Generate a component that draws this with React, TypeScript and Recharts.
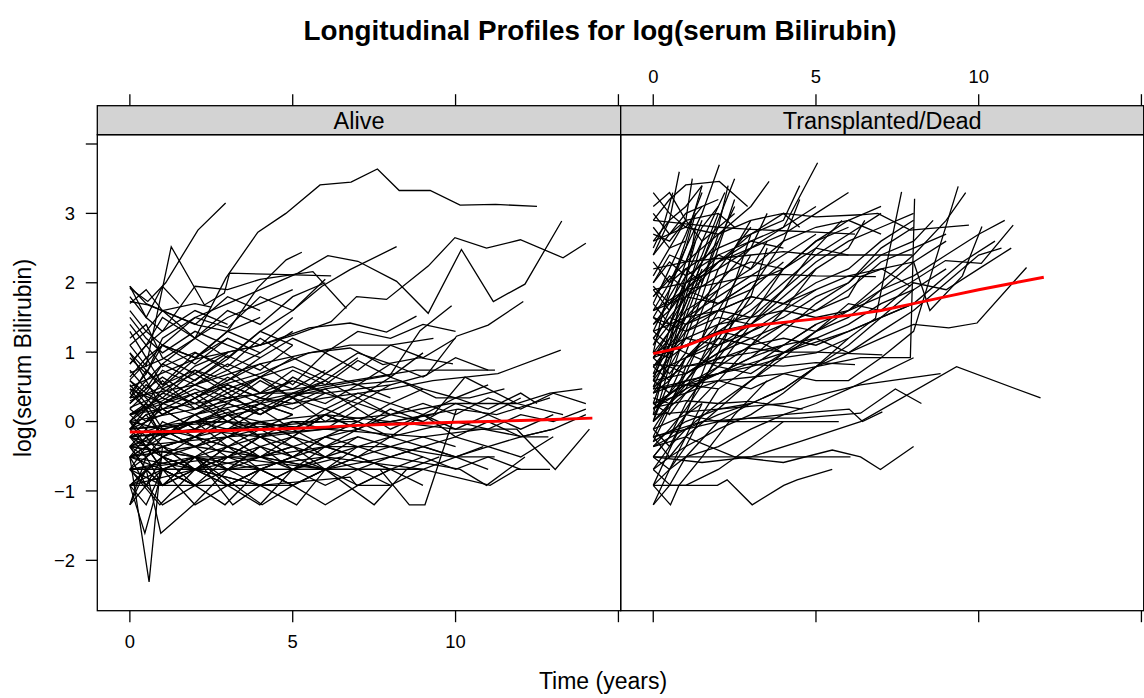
import React from 'react';
import { Line, LineChart, XAxis, YAxis } from 'recharts';

type Pt = [number, number];

// log(serum bilirubin) profiles, one array per subject: [years, value]
const aliveProfiles: Pt[][] = [
	[[0, 0.7], [1, 0.9], [2, 1.2], [2.95, 2.07], [3.93, 2.73], [4.79, 3.0], [5.84, 3.41], [6.79, 3.45], [7.6, 3.64], [8.27, 3.33], [9.22, 3.33], [10.14, 3.12], [11.23, 3.13], [12.5, 3.1]],
	[[0, 1.92], [0.55, 1.73], [1.1, 2.0], [2.09, 2.76], [2.94, 3.15]],
	[[0, 1.1], [0.5, 0.8], [1.27, 2.52], [2.29, 1.68], [2.9, 1.85], [3.06, 2.14], [4.5, 2.12], [6.18, 2.1]],
	[[0, 1.95], [0.5, 1.5], [1, 1.3], [2, 1.95], [3, 1.9], [4, 2.05], [5.62, 2.16], [6.65, 1.63]],
	[[0, 0.3], [1, 0.5], [2, 0.9], [3, 1.3], [3.93, 1.93], [4.8, 2.33], [5.28, 2.44]],
	[[0, 0.6], [1, 1.1], [2, 1.5], [3, 1.7], [4, 1.9], [5.16, 2.14], [6.08, 2.39], [7.0, 2.31], [8.19, 2.02], [9.16, 1.56], [10.18, 2.48], [11.16, 1.73], [12.13, 1.98], [13.26, 2.89]],
	[[0, 0.2], [1, 0.4], [2, 0.8], [3, 1.0], [4, 1.1], [5.06, 1.25], [6.18, 1.44], [6.96, 1.8], [7.88, 1.76], [9.16, 2.24], [9.98, 2.65], [10.95, 2.5], [11.99, 2.62], [13.3, 2.36], [14.0, 2.57]],
	[[0, 0.1], [1, 0.3], [2, 0.6], [3, 0.9], [4, 1.3], [5, 1.6], [5.9, 1.95], [6.76, 2.19], [8.19, 2.52]],
	[[0, 0.5], [2, 0.9], [4, 1.1], [5.5, 1.35], [6.76, 1.42], [7.88, 1.29], [8.8, 1.52]],
	[[0, -0.22], [2, 0.1], [4, 0.3], [6, 0.5], [7.99, 0.67], [8.91, 1.31], [9.88, 1.67]],
	[[0, 0.0], [2, 0.18], [4, 0.41], [6, 0.41], [8, 0.53], [9.11, 0.67], [10.03, 1.23], [11.0, 1.39], [12.08, 1.73]],
	[[0, -0.36], [2, 0.0], [4, 0.18], [6, 0.34], [8, 0.47], [9.3, 0.59], [11.3, 0.69], [13.23, 1.03]],
	[[0, 0.34], [2, 0.53], [4, 0.83], [5.5, 0.99], [6.76, 1.1], [7.99, 1.1], [9.32, 1.2]],
	[[0, 0.1], [2, 0.41], [4, 0.69], [5.5, 0.99], [6.76, 1.06], [7.77, 0.82], [8.91, 0.92], [9.92, 0.83]],
	[[0, -0.11], [2, 0.0], [4, 0.26], [6, 0.47], [6.76, 0.53], [8.29, 0.59], [9.4, 0.34], [10.43, 0.34], [11.5, 0.47]],
	[[0, 0.1], [3, 0.34], [6, 0.53], [8.8, 0.74], [10.18, 0.74], [11.21, 0.74]],
	[[0, -0.51], [2, -0.22], [4, 0.0], [6, 0.1], [8, 0.0], [9.32, 0.1], [10.29, 0.64], [11.88, 0.26], [13.3, 0.1]],
	[[0, -0.22], [3, -0.11], [6, 0.0], [8, 0.1], [9.83, 0.26], [11.88, 0.26], [12.9, 0.41], [13.89, 0.47]],
	[[0, -0.36], [3, -0.22], [6, -0.11], [8, 0.0], [10.08, 0.18], [11.26, 0.1], [12.9, 0.34]],
	[[0, -0.69], [2, -0.51], [4, -0.51], [6, -0.36], [8, -0.36], [9.9, -0.51], [11.2, -0.51]],
	[[0, -0.92], [2, -0.69], [4, -0.51], [6, -0.69], [8, -0.51], [10.14, -0.69], [10.95, -0.92], [12.13, -0.51]],
	[[0, -0.69], [3, -0.69], [6, -0.51], [9, -0.69], [11.06, -0.92], [11.88, -0.69], [12.9, -0.69]],
	[[0, -0.22], [2, -0.11], [4, -0.22], [6, -0.11], [8, 0.0], [10, -0.11], [11.88, -0.11], [13.06, -0.69], [14.11, -0.11]],
	[[0, -0.11], [3, 0.0], [6, -0.11], [9, -0.22], [10.85, -0.11], [12.08, -0.22], [12.85, -0.22]],
	[[0, -0.36], [2, -0.51], [4, -0.69], [6.76, -0.69], [7.68, -0.69], [8.58, -1.2], [9.06, -1.2], [9.42, -0.69], [10.03, 0.18]],
	[[0, -0.51], [2, -0.69], [4, -0.92], [6.76, -0.8], [6.96, -0.92], [7.99, -0.92]],
	[[0, -0.69], [3, -0.51], [6, -0.69], [8.19, -0.69], [9.0, -0.69], [10.85, -0.36]],
	[[0, -0.51], [0.59, -2.31], [1, -0.36], [2, -0.22], [3, -0.36]],
	[[0, -0.92], [0.46, -1.61], [1, -0.69], [2, -0.92]],
	[[0, -0.36], [0.5, -0.69], [0.95, -1.61], [1.95, -1.2], [3, -0.69]],
	[[0, -1.2], [0.5, -0.51], [1, -0.92], [2, -0.69]],
	[[0, -0.69], [0.92, -1.2], [2, -0.69], [3, -0.51], [4, -0.36]],
	[[0, -0.51], [1, -0.69], [2, -0.92], [2.92, -1.2], [4, -0.69], [5, -0.51]],
	[[0, -0.92], [1, -0.69], [2, -0.51], [3.16, -1.2], [4, -0.92], [5, -0.69], [6, -0.51]],
	[[0, -0.22], [1, -0.51], [2, -0.69], [3, -0.92], [3.99, -1.2], [5, -0.69], [6.5, -0.51]],
	[[0, -0.36], [2, -0.51], [4.06, -1.2], [5, -0.92], [6, -0.69]],
	[[0, -0.69], [2, -0.69], [4, -0.92], [5.12, -1.2], [6, -0.69], [7, -0.51], [8, -0.69]],
	[[0, -0.51], [2, -0.36], [4, -0.51], [6, -0.69], [7.5, -1.2], [8.5, -0.69], [9.5, -0.51]],
	[[0, -0.69], [0.96, -0.69], [2, -0.69], [3, -0.69], [4, -0.69], [5, -0.69], [6, -0.69], [7, -0.69], [8, -0.69], [9, -0.69]],
	[[0, -0.92], [0.92, -0.92], [2, -0.92], [3, -0.92], [4, -0.92], [5, -0.92]],
	[[0, 0.0], [1, -0.11], [2, 0.0], [3, 0.0], [4, -0.11], [5, 0.0], [6, 0.0], [7, 0.0]],
	[[0, 1.5], [0.5, 1.2], [1, 0.99], [2, 1.3], [3, 1.1], [4, 0.92]],
	[[0, 1.2], [0.5, 1.4], [1, 0.92], [2, 0.69], [3, 0.99]],
	[[0, 0.83], [0.5, 1.1], [1, 1.5], [2, 1.2], [3, 1.6], [4, 1.4], [5, 1.8], [6, 2.0]],
	[[0, 0.99], [0.5, 0.59], [1, 0.83], [2, 1.2], [3, 0.92], [4, 1.3], [5, 1.1]],
	[[0, 0.64], [0.5, 0.92], [1, 0.53], [2, 0.74], [3, 0.47], [4, 0.64], [5, 0.79], [6, 0.59], [7, 0.92]],
	[[0, 0.47], [1, 0.26], [2, 0.53], [3, 0.74], [4, 0.41], [5, 0.59]],
	[[0, 0.34], [0.5, 0.59], [1, 0.18], [2, 0.41], [3, 0.1], [4, 0.34], [5, 0.26], [6, 0.47], [7, 0.18]],
	[[0, 0.18], [0.5, 0.0], [1, 0.26], [2, 0.1], [3, 0.34], [4, 0.18], [5, 0.41], [6, 0.26], [7, 0.53], [8, 0.34]],
	[[0, 0.1], [0.5, 0.26], [1, -0.11], [2, 0.0], [3, 0.18], [4, -0.11], [5, 0.1]],
	[[0, -0.11], [0.5, 0.1], [1, 0.18], [2, -0.11], [3, 0.1], [4, 0.0], [5, -0.22], [6, 0.1], [7, -0.11], [8, 0.1], [9, 0.0]],
	[[0, 0.0], [0.5, -0.22], [1, -0.11], [2, -0.36], [3, -0.22], [4, -0.11], [5, -0.36]],
	[[0, -0.22], [0.5, -0.36], [1, -0.11], [2, -0.22], [3, -0.51], [4, -0.22], [5, -0.36], [6, -0.22], [7, -0.11]],
	[[0, -0.36], [0.5, -0.11], [1, -0.36], [2, -0.51], [3, -0.36], [4, -0.22], [5, -0.51], [6, -0.36], [7, -0.51], [8, -0.36], [9, -0.22], [10, -0.36]],
	[[0, -0.51], [0.5, -0.36], [1, -0.51], [2, -0.22], [3, -0.36], [4, -0.51], [5, -0.22], [6, -0.36], [7, -0.22]],
	[[0, -0.69], [0.5, -0.51], [1, -0.36], [2, -0.69], [3, -0.36], [4, -0.51], [5, -0.69], [6, -0.36], [7, -0.51], [8, -0.22]],
	[[0, 0.26], [0.5, 0.47], [1, 0.64], [2, 0.34], [3, 0.59], [4, 0.83], [5, 0.53], [6, 0.99], [7, 0.74], [8, 1.1], [9, 0.92], [10, 1.2]],
	[[0, 0.59], [0.5, 0.34], [1, 0.1], [2, 0.34], [3, 0.0], [4, 0.26], [5, 0.1]],
	[[0, 1.7], [0.5, 1.9], [1, 1.6], [2, 1.2], [3, 1.5], [4, 1.7], [5, 1.9]],
	[[0, 1.8], [0.5, 1.5], [1, 1.95], [1.5, 1.7]],
	[[0, 0.41], [0.5, 0.69], [1, 1.2], [2, 1.5], [3, 1.35], [4, 1.8], [5, 1.6], [6, 2.05]],
	[[0, -0.11], [1, 0.1], [2, 0.34], [3, 0.64], [4, 0.41], [5, 0.74], [6, 0.53], [7, 0.88], [8, 0.64], [9, 0.99]],
	[[0, -0.51], [1, -0.22], [2, 0.0], [3, -0.11], [4, 0.18], [5, -0.11], [6, 0.1], [7, 0.34], [8, 0.1], [9, 0.26], [10, 0.1], [11, 0.34], [12, 0.18], [13, 0.41], [14, 0.26]],
	[[0, -0.22], [1, -0.36], [2, -0.22], [3, 0.0], [4, -0.22], [5, -0.11], [6, -0.36], [7, -0.11], [8, -0.22], [9, -0.11], [10, 0.0], [11, -0.11], [12, 0.1], [13, 0.0], [14, 0.18]],
	[[0, -0.92], [1, -0.51], [2, -0.69], [3, -0.36], [4, -0.69], [5, -0.51], [6, -0.22], [7, -0.36], [8, -0.51], [9, -0.36], [10, -0.22], [11, -0.36], [12, -0.51], [13, -0.22]],
	[[0, -0.69], [1, -0.92], [2, -0.51], [3, -0.69], [4, -0.36], [5, -0.51], [6, -0.69], [7, -0.92], [8, -0.69], [9, -0.51], [10, -0.69], [11, -0.51], [12, -0.69]],
	[[0, 0.1], [1, 0.34], [2, 0.18], [3, 0.47], [4, 0.26], [5, 0.64], [6, 0.41], [7, 0.26], [8, 0.53]],
	[[0, 0.74], [0.5, 0.47], [1, 0.83], [2, 0.59], [3, 0.95], [4, 0.74], [5, 1.1]],
	[[0, -0.36], [0.5, -0.69], [1, -0.51], [2, -0.92], [3, -0.69], [4, -0.92], [5, -0.69], [6, -0.92], [7, -0.69], [8, -0.92], [9, -0.69]],
	[[0, 0.0], [0.5, 0.18], [1, -0.22], [2, 0.1], [3, -0.22], [4, 0.0], [5, -0.11], [6, 0.18], [7, 0.0], [8, 0.26], [9, 0.1], [10, 0.34], [11, 0.18], [12, 0.41], [12.5, 0.26]],
	[[0, 1.3], [0.5, 0.92], [1, 1.1], [2, 0.83], [3, 1.2]],
	[[0, 1.73], [0.55, 1.68], [2.09, 1.39], [3, 1.3], [4, 1.5]],
	[[0, 1.95], [0.5, 1.7], [1, 1.6], [2, 1.7], [2.5, 1.65]],
	[[0, -0.92], [0.5, -1.2], [1, -0.69], [2, -0.92], [3, -0.51]],
	[[0, -1.2], [0.5, -0.92], [1, -1.2], [2, -0.92]],
	[[0, 0.47], [0.5, 0.18], [1, -0.22], [2, 0.0], [3, -0.36], [4, -0.11]],
	[[0, 0.59], [0.5, 0.41], [1, 0.74], [2, 0.53], [3, 0.83], [4, 0.64], [5, 0.92], [6, 0.69], [7, 0.99], [8, 0.83]],
	[[0, -0.11], [0.5, 0.1], [1, -0.22], [2, 0.1], [3, 0.26], [4, 0.1], [5, 0.34], [6, 0.18], [7, 0.41], [8, 0.26], [9, 0.47], [10, 0.34], [11, 0.53]],
	[[0, -0.36], [0.5, -0.51], [1, -0.22], [2, -0.36], [3, -0.11], [4, -0.36], [5, -0.22], [6, -0.51], [7, -0.36], [8, -0.22], [9, -0.36], [10, -0.51], [11, -0.36], [12, -0.22], [13, -0.11]],
	[[0, -0.69], [0.5, -0.36], [1, -0.69], [2, -0.51], [3, -0.69], [4, -0.36], [5, -0.69], [6, -0.51], [7, -0.69], [8, -0.51], [9, -0.36], [10, -0.51], [11, -0.69]],
	[[0, 0.18], [0.5, 0.41], [1, 0.26], [2, 0.53], [3, 0.34], [4, 0.64], [5, 0.47], [6, 0.74]],
	[[0, 0.92], [0.5, 0.69], [1, 1.1], [2, 0.92], [3, 1.3], [4, 1.1], [5, 1.5]],
	[[0, 1.4], [0.5, 1.1], [1, 1.3], [2, 1.6], [3, 1.4]],
	[[0, 1.1], [0.5, 1.3], [1, 1.6], [2, 1.4], [3, 1.8], [4, 1.6]],
	[[0, 0.26], [0.5, 0.53], [1, 0.34], [2, 0.74], [3, 0.59], [4, 0.92], [5, 1.2], [6, 0.99], [7, 1.3], [8, 1.2], [9, 1.4], [10, 1.3]],
	[[0, -0.22], [0.5, 0.0], [1, 0.18], [2, -0.11], [3, 0.26], [4, 0.1], [5, 0.41], [6, 0.59], [7, 0.34], [8, 0.64], [9, 0.47]],
	[[0, -0.51], [0.5, -0.22], [1, -0.51], [2, -0.69], [3, -0.51], [4, -0.22], [5, -0.51], [6, -0.22], [7, 0.0], [8, -0.22], [9, 0.1], [10, -0.11], [11, 0.1], [12, -0.11], [13, 0.1]],
	[[0, -0.92], [0.5, -0.69], [1, -0.92], [2, -0.51], [3, -0.92], [4, -0.69], [5, -0.92], [6, -0.69], [7, -0.51], [8, -0.69]],
	[[0, 0.0], [0.5, -0.36], [1, 0.0], [2, -0.22], [3, 0.1], [4, -0.22], [5, 0.0], [6, -0.11], [7, 0.18], [8, -0.11], [9, 0.1], [10, -0.22], [11, 0.0], [12, -0.22], [13, -0.11], [14, 0.1]],
	[[0, 0.41], [0.5, 0.18], [1, 0.47], [2, 0.26], [3, 0.53], [4, 0.34], [5, 0.18], [6, 0.41]],
	[[0, -1.2], [0.5, -0.69], [1, -0.92], [2, -0.69], [3, -0.51], [4, -0.69], [5, -0.51]],
	[[0, -0.11], [0.5, -0.36], [1, -0.69], [2, -0.51], [3, -0.22], [4, -0.51], [5, -0.36], [6, -0.69], [7, -0.36]],
	[[0, 0.83], [0.5, 1.1], [1, 0.79], [2, 1.0], [3, 0.74], [4, 0.99]],
	[[0, 0.1], [0.5, -0.11], [1, 0.26], [2, 0.47], [3, 0.26], [4, 0.59], [5, 0.34], [6, 0.69], [7, 0.53], [8, 0.83], [9, 0.64], [10, 0.92], [11, 0.74]],
	[[0, -0.22], [0.5, -0.51], [1, -0.36], [2, -0.69], [3, -0.92], [4, -0.69], [5, -0.92], [6, -1.2], [7, -0.92], [8, -0.69], [9, -0.92]],
	[[0, 0.53], [0.5, 0.26], [1, 0.59], [2, 0.18], [3, 0.41], [4, 0.1], [5, 0.34], [6, 0.0], [7, 0.26], [8, 0.1]],
	[[0, 1.6], [0.5, 1.3], [1, 1.1], [2, 0.92], [3, 1.2], [4, 0.99], [5, 1.3]],
	[[0, 0.34], [0.5, 0.74], [1, 0.53], [2, 0.99], [3, 0.79], [4, 1.2], [5, 0.92]],
	[[0, -0.36], [1, -0.11], [2, -0.36], [3, -0.22], [4, 0.0], [5, -0.22], [6, 0.1], [7, -0.11], [8, 0.18], [9, 0.0], [10, 0.26], [11, 0.1], [12, 0.34]],
	[[0, -0.51], [0.5, -0.92], [1, -0.51], [2, -0.36], [3, -0.69], [4, -0.51], [5, -0.36], [6, -0.51], [7, -0.22], [8, -0.36], [9, -0.51]],
	[[0, 0.0], [0.5, 0.26], [1, 0.1], [2, 0.34], [3, 0.53], [4, 0.34], [5, 0.59], [6, 0.41]],
	[[0, -0.69], [0.5, -0.92], [1, -0.69], [2, -1.2], [3, -0.92], [4, -0.69], [5, -0.92], [6, -0.69]],
	[[0, 0.99], [0.5, 0.74], [1, 0.47], [2, 0.69], [3, 0.41], [4, 0.64], [5, 0.34], [6, 0.59]],
	[[0, -0.11], [0.5, 0.18], [1, 0.41], [2, 0.26], [3, 0.0], [4, 0.26], [5, 0.1]],
];

const deadProfiles: Pt[][] = [
	[[0, 3.3], [0.5, 3.0], [1, 2.8], [1.5, 3.1]],
	[[0, 2.9], [0.5, 3.2], [1, 3.41], [2.03, 3.46], [2.9, 3.1]],
	[[0, 2.4], [0.5, 2.9], [0.8, 3.6]],
	[[0, 1.5], [0.5, 1.9], [1, 2.5], [1.5, 3.0], [2.03, 3.7]],
	[[0, 1.2], [1, 1.8], [2, 2.3], [3, 2.6], [4, 2.8], [5.05, 3.73]],
	[[0, 1.8], [1, 2.3], [2, 2.7], [3, 3.1], [3.56, 3.46]],
	[[0, 2.9], [1, 2.85], [2, 2.8], [3, 2.77], [4, 2.75], [5, 2.73], [6.2, 2.7]],
	[[0, 1.6], [1, 1.9], [2, 2.0], [3, 2.1], [3.92, 2.12], [5, 2.1], [6.84, 2.09]],
	[[0, 0.5], [1, 0.8], [2, 0.9], [2.95, 1.06], [4, 1.0], [5, 1.0], [7.04, 0.96]],
	[[0, 0.82], [1, 0.8], [2, 0.85], [3, 0.82], [4, 0.8], [5, 0.85], [6.2, 0.82]],
	[[0, 0.2], [1, 0.3], [2, 0.26], [2.95, 0.29], [4.59, 0.18]],
	[[0, -0.11], [1, 0.1], [2, 0.0], [2.95, 0.0], [4, 0.0], [5.7, 0.0]],
	[[0, -0.22], [2, 0.0], [4, 0.1], [6.02, 0.18], [6.43, 0.0], [7.04, 0.14]],
	[[0, -0.92], [0.53, -1.2], [0.79, -0.92], [1.5, -0.51], [2.5, 0.1], [3.5, 0.59]],
	[[0, -1.2], [0.5, -0.92], [1, -0.51], [2, 0.0], [3, 0.26]],
	[[0, -0.69], [0.53, -0.92], [1.97, -0.92], [2.27, -0.84], [3.04, -1.2], [4.01, -0.92], [4.42, -0.84], [5.5, -0.69]],
	[[0, -0.51], [1.5, -0.51], [3, -0.51], [4.5, -0.51], [6.06, -0.51]],
	[[0, -0.36], [1, -0.22], [2.5, -0.51], [4, -0.59], [5.5, -0.41], [6.37, -0.51], [6.98, -0.69], [8.0, -0.36]],
	[[0, -0.22], [1.5, 0.0], [3, 0.05], [4.5, 0.05], [6.37, 0.12], [7.44, 0.47], [8.24, 0.26]],
	[[0, -0.51], [1.5, -0.59], [3, -0.51], [4.5, -0.29], [6.37, 0.0], [9.32, 0.79], [11.9, 0.34]],
	[[0, 0.1], [2, 0.18], [4, 0.26], [6.37, 0.53], [8.83, 0.69]],
	[[0, 0.26], [1, 0.41], [2, 0.59], [3, 0.47], [4, 0.69], [5, 0.59], [6, 0.59], [7, 0.92], [8, 1.3], [9.37, 3.39]],
	[[0, 0.47], [2, 0.59], [4, 0.69], [5, 0.79], [6.37, 0.92], [7.9, 0.92], [8.03, 3.21]],
	[[0, 0.41], [1, 0.59], [2, 0.69], [3, 0.79], [4, 0.92], [5, 0.99], [6, 1.2], [6.83, 1.49], [7.63, 3.31]],
	[[0, 0.59], [1, 0.69], [2, 0.92], [3, 0.99], [4, 1.1], [5, 1.2], [6, 0.99], [7, 1.2], [8, 1.4], [9.08, 1.35], [9.95, 1.42], [11.47, 2.22]],
	[[0, 0.99], [1, 1.2], [2, 1.4], [3, 1.5], [4, 1.6], [5, 1.5], [6, 1.6], [7, 1.8], [7.9, 2.0], [8.98, 2.32], [10.08, 2.28], [11.06, 2.83]],
	[[0, 0.92], [1, 1.1], [2, 1.3], [3, 1.2], [4, 1.4], [5, 1.6], [6, 1.8], [6.37, 2.09], [7.03, 2.2], [7.9, 1.95]],
	[[0, 2.2], [1, 2.3], [2, 2.35], [3, 2.4], [4, 2.45], [5, 2.4], [6.37, 2.4], [7.96, 2.4]],
	[[0, 2.6], [1, 2.8], [2, 2.7], [3, 2.9], [4, 3.0], [5, 2.95], [6.37, 2.98], [6.9, 3.0], [7.9, 2.76], [9.7, 2.83]],
	[[0, 1.3], [1, 1.5], [2, 1.6], [3, 1.8], [4, 1.7], [5, 1.9], [6, 2.1], [7, 2.2], [8, 2.3], [8.5, 1.6], [9.5, 2.1], [10.1, 2.81]],
	[[0, 0.0], [0.5, 0.59], [1, 1.3], [1.5, 2.0], [2, 2.7]],
	[[0, 0.26], [0.5, 0.92], [1, 1.8], [1.5, 2.6], [2.2, 3.3]],
	[[0, -0.29], [0.5, 0.18], [1, 0.79], [2, 1.6], [3, 2.4]],
	[[0, 0.69], [0.5, 1.2], [1, 1.9], [1.5, 2.4], [2, 3.0]],
	[[0, 1.1], [0.5, 1.6], [1, 2.3], [1.5, 2.9]],
	[[0, 0.18], [1, 0.59], [2, 1.2], [3, 1.9], [4, 2.6], [4.5, 3.2]],
	[[0, -0.51], [0.5, -0.22], [1, 0.26], [2, 0.92], [3, 1.5], [4, 2.2]],
	[[0, -0.92], [0.5, -0.41], [1, 0.1], [2, 0.59], [3, 1.1], [4, 1.6], [5, 2.2]],
	[[0, 0.0], [1, 0.41], [2, 0.79], [3, 1.4], [4, 1.9], [5, 2.5], [5.8, 2.9]],
	[[0, 1.4], [0.5, 1.7], [1, 2.1], [1.5, 2.6], [2.5, 3.0]],
	[[0, 1.7], [0.5, 2.2], [1, 2.7], [1.5, 3.3]],
	[[0, 2.0], [0.5, 2.4], [1, 2.3], [1.5, 2.8], [2, 3.1]],
	[[0, 2.5], [0.3, 2.8], [0.6, 3.3]],
	[[0, 3.1], [0.5, 3.3], [1, 2.9]],
	[[0, 0.92], [0.5, 1.3], [1, 1.5], [2, 2.0], [3, 2.5], [3.5, 3.0]],
	[[0, 0.59], [0.5, 0.92], [1, 1.4], [2, 1.9], [2.5, 2.5], [3, 2.9]],
	[[0, -0.22], [0.5, 0.26], [1, 0.69], [1.5, 1.2], [2, 1.9]],
	[[0, 0.41], [0.5, 0.59], [1, 0.92], [2, 1.4], [3, 1.7], [4, 2.2], [5, 2.6], [6, 2.8]],
	[[0, 1.9], [1, 2.0], [2, 2.3], [3, 2.5], [4, 2.7], [5, 3.0], [6, 3.3]],
	[[0, 0.1], [0.5, 0.41], [1, 0.53], [2, 0.69], [3, 0.92], [4, 1.3], [5, 1.7], [6, 2.0], [7, 2.5], [8, 2.8]],
	[[0, 1.2], [0.5, 1.5], [1, 1.4], [2, 1.7], [3, 1.9], [4, 2.3]],
	[[0, 2.7], [0.5, 2.6], [1, 2.9], [2, 3.0], [2.5, 2.8]],
	[[0, 0.99], [0.5, 0.92], [1, 1.1], [2, 1.3], [3, 1.4]],
	[[0, 0.79], [0.5, 0.99], [1, 1.2], [2, 1.1], [3, 1.3], [4, 1.5], [5, 1.8], [6, 2.0], [7, 2.4], [8, 2.6], [8.6, 2.9]],
	[[0, 0.18], [1, 0.47], [2, 0.69], [3, 0.92], [4, 1.1], [5, 1.4], [6, 1.6], [7, 2.0], [8, 2.4], [9, 2.9], [9.6, 3.3]],
	[[0, -0.29], [1, 0.0], [2, 0.18], [3, 0.26], [4, 0.47], [5, 0.79], [6, 0.99], [7, 1.3], [8, 1.6], [9, 2.0], [10, 2.4], [10.7, 2.5]],
	[[0, 0.47], [2, 0.69], [4, 0.99], [6, 1.3], [8, 1.7], [9.5, 2.3], [10.5, 2.6]],
	[[0, 1.5], [1, 1.3], [2, 1.6], [3, 1.8], [4, 1.7], [5, 2.0], [6, 2.2], [7, 2.6], [8, 2.9]],
	[[0, 2.3], [0.5, 2.0], [1, 2.2], [2, 2.5], [3, 2.7], [4, 2.9], [4.5, 3.4]],
	[[0, -0.11], [0.5, -0.36], [1, -0.11], [2, 0.1], [3, 0.26], [4, 0.47], [5, 0.79], [6, 1.2]],
	[[0, -0.69], [0.5, -0.51], [1, -0.22], [2, 0.18], [3, 0.59], [4, 0.99]],
	[[0, 0.92], [0.5, 0.69], [1, 0.99], [2, 0.79], [3, 1.1], [4, 1.2], [5, 1.1], [6, 1.3], [7, 1.5], [8, 1.7]],
	[[0, 1.3], [0.5, 1.1], [1, 1.4], [2, 1.6], [3, 1.5], [4, 1.9], [5, 2.3], [6, 2.6], [7, 2.8], [8, 3.0]],
	[[0, 2.0], [0.5, 2.3], [1, 2.1], [2, 2.4], [3, 2.2], [4, 2.6], [5, 2.8], [6, 2.9], [7, 3.1]],
	[[0, -0.36], [0.5, -0.11], [1, 0.18], [1.5, 0.53], [2, 0.99], [2.5, 1.5]],
	[[0, 0.0], [0.3, 0.47], [0.6, 0.99], [1, 1.6], [1.5, 2.2]],
	[[0, 0.59], [0.3, 0.99], [0.6, 1.5], [1, 2.1], [1.3, 2.6]],
	[[0, 1.6], [0.5, 2.0], [1, 2.5], [1.3, 3.0]],
	[[0, -0.92], [0.5, -0.69], [1, -0.36], [1.5, 0.1], [2, 0.47]],
	[[0, 0.26], [0.5, 0.1], [1, 0.41], [1.5, 0.59]],
	[[0, -0.51], [0.5, -0.22], [1, 0.1], [1.5, 0.26]],
	[[0, 2.8], [0.5, 2.5], [1, 2.6]],
	[[0, 1.95], [0.5, 1.7], [1, 1.9], [2, 1.7], [3, 2.0]],
	[[0, 0.99], [0.2, 1.4], [0.5, 1.9], [1, 2.6], [1.5, 3.4]],
	[[0, 1.1], [0.5, 1.4], [1, 2.0], [2, 2.6], [2.5, 3.1]],
	[[0, 0.5], [0.5, 1.0], [1, 1.5], [1.5, 2.1]],
	[[0, 1.8], [0.5, 2.1], [1, 1.9], [2, 2.4], [3, 2.6], [4, 2.5]],
	[[0, 0.79], [0.5, 1.1], [1, 0.99], [1.5, 1.6], [2, 2.2], [3, 2.8]],
	[[0, -0.11], [0.5, 0.26], [1, 0.59], [2, 1.1], [3, 1.8], [3.5, 2.5]],
	[[0, 0.41], [0.5, 0.79], [1, 1.2], [1.5, 1.8], [2, 2.5], [2.5, 3.2]],
	[[0, 1.3], [0.5, 1.8], [1, 2.2], [1.5, 2.0], [2, 2.6]],
	[[0, 2.1], [0.5, 2.5], [1, 2.9], [1.2, 3.5]],
	[[0, 0.18], [0.5, 0.41], [1, 0.92], [2, 1.3], [3, 1.6], [4, 2.0], [5, 2.4], [6, 2.7], [7, 3.0]],
	[[0, 0.69], [1, 0.92], [2, 1.1], [3, 1.4], [4, 1.8], [5, 2.2], [6, 2.5], [6.5, 2.9]],
	[[0, 1.6], [1, 1.8], [2, 1.7], [3, 2.0], [4, 2.2], [5, 2.5], [6, 2.4]],
	[[0, -0.36], [1, -0.11], [2, 0.26], [3, 0.59], [4, 0.92], [5, 1.3], [6, 1.5], [7, 1.9], [8, 2.3], [9, 2.6]],
	[[0, 0.59], [0.5, 0.41], [1, 0.69], [2, 0.99], [3, 1.2], [4, 0.99], [5, 1.3], [6, 1.6], [7, 1.9], [8, 2.1], [9, 2.4], [10, 2.7], [10.8, 2.9]],
	[[0, 0.26], [1, 0.53], [2, 0.79], [3, 0.69], [4, 0.99], [5, 1.2], [6, 1.4], [7, 1.7], [8, 1.9], [9, 2.2]],
	[[0, 0.99], [0.5, 1.3], [1, 1.7], [1.5, 2.3], [2, 2.9], [2.5, 3.5]],
	[[0, 2.4], [0.5, 2.7], [1, 3.0], [2, 3.2]],
	[[0, 3.0], [0.5, 2.7], [1, 2.9], [1.5, 2.6]],
	[[0, 1.5], [0.5, 1.3], [1, 1.6], [2, 1.9], [3, 2.2], [3.5, 2.6]],
	[[0, 0.0], [0.5, 0.26], [1, 0.47], [1.5, 0.92], [2, 1.4], [2.5, 2.0], [3, 2.7]],
	[[0, -0.69], [0.5, -0.36], [1, 0.1], [1.5, 0.69], [2, 1.3]],
	[[0, -1.2], [0.5, -0.69], [1, -0.22], [1.5, 0.26]],
	[[0, -0.22], [0.5, -0.51], [1, -0.36], [2, -0.11], [3, 0.1], [4, 0.41], [5, 0.79], [6, 1.1], [7, 1.5], [8, 1.9]],
	[[0, -0.92], [1, -0.92], [2, -0.69], [3, -0.36], [4, 0.0]],
	[[0, 0.47], [0.5, 0.79], [1, 0.69], [2, 0.99], [3, 1.3], [4, 1.6], [5, 1.9]],
	[[0, 0.92], [0.5, 1.2], [1, 1.5], [2, 1.8], [3, 2.1], [4, 2.4], [5, 2.7]],
	[[0, 1.9], [0.5, 1.6], [1, 2.0], [2, 2.2], [3, 2.5], [4, 2.8], [5, 3.1]],
	[[0, 1.2], [0.5, 0.99], [1, 1.3], [2, 1.5], [3, 1.4], [4, 1.7], [5, 1.6], [6, 1.9], [7, 2.3], [8, 2.5], [9, 2.7]],
	[[0, 0.79], [0.5, 0.59], [1, 0.92], [2, 1.2], [3, 1.1], [4, 1.4], [5, 1.3], [6, 1.7], [7, 1.6], [8, 2.0], [9, 1.9], [10, 2.2], [11, 2.5]],
	[[0, 2.6], [0.5, 2.9], [1, 3.1], [1.5, 3.4]],
	[[0, 0.1], [0.3, 0.69], [0.6, 1.3], [1, 2.0], [1.3, 2.8]],
	[[0, 0.34], [0.5, 0.26], [1, 0.53], [2, 0.47], [3, 0.79], [4, 1.1], [5, 1.4]],
	[[0, -0.51], [0.5, -0.69], [1, -0.51], [2, -0.36], [3, -0.11], [4, 0.1], [5, 0.26], [6, 0.47], [7, 0.69], [8, 0.92]],
	[[0, 1.4], [0.5, 1.6], [1, 1.9], [2, 2.3], [3, 2.7], [4, 3.0], [4.5, 2.8]],
	[[0, 0.64], [0.5, 1.1], [1, 1.7], [1.5, 2.3], [2, 2.8], [2.3, 3.4]],
	[[0, 1.7], [0.5, 1.4], [1, 1.8], [2, 2.1], [3, 2.3], [4, 2.2], [5, 2.6], [6, 2.9], [7, 2.7]],
];

// loess smooth drawn in red
const aliveSmooth: Pt[] = [
	[0, -0.15], [1, -0.145], [2, -0.14], [3, -0.13], [4, -0.115], [5, -0.1], [6, -0.08], [7, -0.055], [8, -0.04], [9, -0.025], [10, -0.01], [11, 0.0], [12, 0.015], [13, 0.03], [14.2, 0.05],
];
const deadSmooth: Pt[] = [
	[0, 0.98], [0.5, 1.03], [1, 1.09], [1.5, 1.18], [2, 1.27], [2.5, 1.33], [3, 1.38], [4, 1.43], [5, 1.48], [6, 1.53], [7, 1.6], [8, 1.7], [9, 1.8], [10, 1.9], [11, 1.99], [12, 2.08],
];

const xTicks = [0, 5, 10, 15];
const yTicks = [-2, -1, 0, 1, 2, 3, 4];
const panelLabels = ['Alive', 'Transplanted/Dead'];

const X_DOMAIN: [number, number] = [-1.0, 15.07];
const Y_DOMAIN: [number, number] = [-2.726, 4.134];
const FONT = '"Liberation Sans", Arial, Helvetica, sans-serif';

const STRIP_TOP = 105.7;
const PANEL_TOP = 134.7;
const PANEL_BOTTOM = 610.7;
const LEFT_X0 = 97.3;
const MID_X = 620.7;
const RIGHT_X1 = 1143.7;

const toRows = (p: Pt[]) => p.map(([t, v]) => ({ t, v }));

const topTick = (withLabels: boolean) => (props: any) => {
	const { x, payload } = props;
	return (
		<g>
			<line x1={x} x2={x} y1={STRIP_TOP} y2={STRIP_TOP - 11.5} stroke='#000' strokeWidth={1.3} />
			{withLabels && payload.value !== 15 && (
				<text x={x} y={83.3} textAnchor='middle' fontSize={18.4} fontFamily={FONT} fill='#000'>
					{payload.value}
				</text>
			)}
		</g>
	);
};

const bottomTick = (withLabels: boolean) => (props: any) => {
	const { x, payload } = props;
	return (
		<g>
			<line x1={x} x2={x} y1={PANEL_BOTTOM} y2={PANEL_BOTTOM + 11.5} stroke='#000' strokeWidth={1.3} />
			{withLabels && payload.value !== 15 && (
				<text x={x} y={648} textAnchor='middle' fontSize={18.4} fontFamily={FONT} fill='#000'>
					{payload.value}
				</text>
			)}
		</g>
	);
};

const leftTick = (props: any) => {
	const { y, payload } = props;
	return (
		<g>
			<line x1={LEFT_X0 - 11.5} x2={LEFT_X0} y1={y} y2={y} stroke='#000' strokeWidth={1.3} />
			{payload.value !== 4 && (
				<text x={75} y={y + 6.6} textAnchor='end' fontSize={18.4} fontFamily={FONT} fill='#000'>
					{payload.value < 0 ? `\u2212${Math.abs(payload.value)}` : payload.value}
				</text>
			)}
		</g>
	);
};

type PanelProps = {
	profiles: Pt[][];
	smooth: Pt[];
	left: number;
	width: number;
	margin: { top: number; right: number; bottom: number; left: number };
	showY: boolean;
	topLabels: boolean;
	bottomLabels: boolean;
};

const Panel = ({ profiles, smooth, left, width, margin, showY, topLabels, bottomLabels }: PanelProps) => (
	<div style={{ position: 'absolute', left, top: 0, width, height: 698 }}>
		<LineChart width={width} height={698} margin={margin}>
			<XAxis
				xAxisId='top'
				orientation='top'
				type='number'
				dataKey='t'
				domain={X_DOMAIN}
				allowDataOverflow
				ticks={xTicks}
				interval={0}
				height={30}
				axisLine={false}
				tickLine={false}
				tick={topTick(topLabels)}
			/>
			<XAxis
				type='number'
				dataKey='t'
				domain={X_DOMAIN}
				allowDataOverflow
				ticks={xTicks}
				interval={0}
				height={40}
				axisLine={false}
				tickLine={false}
				tick={bottomTick(bottomLabels)}
			/>
			<YAxis
				type='number'
				domain={Y_DOMAIN}
				allowDataOverflow
				ticks={yTicks}
				interval={0}
				width={showY ? 80 : 0}
				hide={!showY}
				axisLine={false}
				tickLine={false}
				tick={leftTick}
			/>
			{profiles.map((p, i) => (
				<Line
					key={i}
					data={toRows(p)}
					dataKey='v'
					type='linear'
					stroke='#000'
					strokeWidth={1.3}
					dot={false}
					activeDot={false}
					isAnimationActive={false}
				/>
			))}
			<Line
				data={toRows(smooth)}
				dataKey='v'
				type='linear'
				stroke='#ff0000'
				strokeWidth={2.9}
				dot={false}
				activeDot={false}
				isAnimationActive={false}
			/>
		</LineChart>
	</div>
);

export default function App() {
	return (
		<div style={{ position: 'absolute', left: 0, top: 0, width: 1144, height: 698, background: '#fff', overflow: 'hidden' }}>
			<Panel
				profiles={aliveProfiles}
				smooth={aliveSmooth}
				left={0}
				width={621}
				margin={{ top: PANEL_TOP - 30, right: 621 - MID_X, bottom: 698 - PANEL_BOTTOM - 40, left: LEFT_X0 - 80 }}
				showY
				topLabels={false}
				bottomLabels
			/>
			<Panel
				profiles={deadProfiles}
				smooth={deadSmooth}
				left={620}
				width={524}
				margin={{ top: PANEL_TOP - 30, right: 620 + 524 - RIGHT_X1, bottom: 698 - PANEL_BOTTOM - 40, left: MID_X - 620 }}
				showY={false}
				topLabels
				bottomLabels={false}
			/>
			<svg width={1144} height={698} style={{ position: 'absolute', left: 0, top: 0, pointerEvents: 'none' }}>
				<text x={600} y={40} textAnchor='middle' fontSize={27.8} fontWeight='bold' fontFamily={FONT}>
					Longitudinal Profiles for log(serum Bilirubin)
				</text>
				{[LEFT_X0, MID_X].map((x0, i) => {
					const x1 = i === 0 ? MID_X : RIGHT_X1;
					return (
						<g key={i}>
							<rect x={x0} y={STRIP_TOP} width={x1 - x0} height={PANEL_TOP - STRIP_TOP} fill='#d3d3d3' stroke='#000' strokeWidth={1.3} />
							<rect x={x0} y={PANEL_TOP} width={x1 - x0} height={PANEL_BOTTOM - PANEL_TOP} fill='none' stroke='#000' strokeWidth={1.3} />
							<text x={(x0 + x1) / 2} y={128.5} textAnchor='middle' fontSize={23.5} fontFamily={FONT}>
								{panelLabels[i]}
							</text>
						</g>
					);
				})}
				<text x={603} y={689} textAnchor='middle' fontSize={23} fontFamily={FONT}>
					Time (years)
				</text>
				<text x={31} y={358} textAnchor='middle' fontSize={23} fontFamily={FONT} transform='rotate(-90 31 358)'>
					log(serum Bilirubin)
				</text>
			</svg>
		</div>
	);
}
